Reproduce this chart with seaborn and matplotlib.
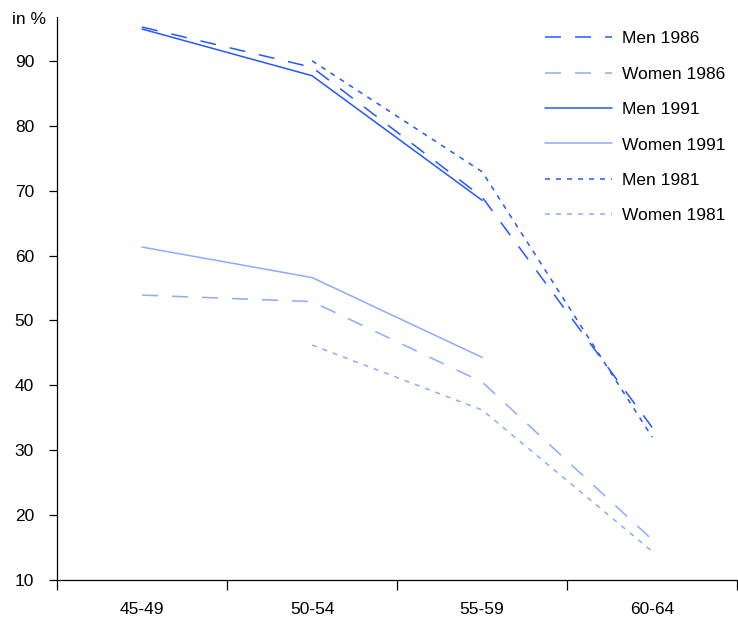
import numpy as np
import pandas as pd
import matplotlib
matplotlib.use("Agg")
import matplotlib.pyplot as plt
import seaborn as sns

# age groups on the x axis
age_groups = ["45-49", "50-54", "55-59", "60-64"]

# participation rates in % (nan = no value for that age group)
men_1986 = [95.2, 89.0, 69.0, 33.5]
women_1986 = [53.9, 52.9, 40.5, 16.2]
men_1991 = [94.9, 87.7, 68.5, np.nan]
women_1991 = [61.3, 56.6, 44.3, np.nan]
men_1981 = [np.nan, 90.0, 72.9, 32.0]
women_1981 = [np.nan, 46.2, 36.2, 14.4]

series_names = ["Men 1986", "Women 1986", "Men 1991", "Women 1991", "Men 1981", "Women 1981"]
series_values = [men_1986, women_1986, men_1991, women_1991, men_1981, women_1981]

dark = "#2458ff"
light = "#8eaaff"
lw = 1.1
px = 0.72 / lw  # dash length per pixel at 100 dpi
long_dash = (0, (16 * px, 14 * px))
short_dash = (0, (5 * px, 6 * px))
styles = {
    "Men 1986": (dark, long_dash),
    "Women 1986": (light, long_dash),
    "Men 1991": (dark, "-"),
    "Women 1991": (light, "-"),
    "Men 1981": (dark, short_dash),
    "Women 1981": (light, short_dash),
}

rows = []
for name, vals in zip(series_names, series_values):
    for i, v in enumerate(vals):
        rows.append({"series": name, "pos": i, "value": v})
df = pd.DataFrame(rows).dropna()

sns.set_style("white")
plt.rcParams["font.family"] = ["Liberation Sans", "DejaVu Sans"]
plt.rcParams["text.color"] = "black"
fs = 12.5

fig = plt.figure(figsize=(7.38, 6.21), dpi=100)
ax = fig.add_axes([57 / 738, 1 - 580 / 621, 1 - 57 / 738 - 0.001, (580 - 17) / 621])

for name in series_names:
    color, ls = styles[name]
    sub = df[df["series"] == name]
    sns.lineplot(data=sub, x="pos", y="value", ax=ax, color=color,
                 linestyle=ls, linewidth=lw, label=name)

ax.set_xlim(-0.5, 3.5)
ax.set_ylim(10, 96.75)
ax.set_yticks(range(10, 100, 10))
ax.set_xticks([-0.5, 0.5, 1.5, 2.5, 3.5])
ax.set_xticklabels([])
ax.set_xticks(range(len(age_groups)), minor=True)
ax.set_xticklabels(age_groups, minor=True)
ax.tick_params(axis="x", which="major", bottom=True, direction="out", length=7,
               width=0.9, color="black")
ax.tick_params(axis="x", which="minor", bottom=True, length=0, pad=15.5,
               labelsize=fs, labelcolor="black")
ax.tick_params(axis="y", left=True, direction="out", length=5.5, width=0.9,
               color="black", labelsize=fs, labelcolor="black", pad=11)
ax.set_xlabel("")
ax.set_ylabel("")

for s in ["top", "right"]:
    ax.spines[s].set_visible(False)
for s in ["left", "bottom"]:
    ax.spines[s].set_color("black")
    ax.spines[s].set_linewidth(0.9)

fig.text(12 / 738, 1 - 20 / 621, "in %", fontsize=fs, va="center", ha="left")

ax.legend(loc="upper left", bbox_to_anchor=(545 / 738, 1 - 31 / 621),
          bbox_transform=fig.transFigure, frameon=False, fontsize=fs,
          handlelength=3.85, handletextpad=0.58, labelspacing=1.17,
          borderpad=0, borderaxespad=0)

fig.savefig("out.png", dpi=100)
